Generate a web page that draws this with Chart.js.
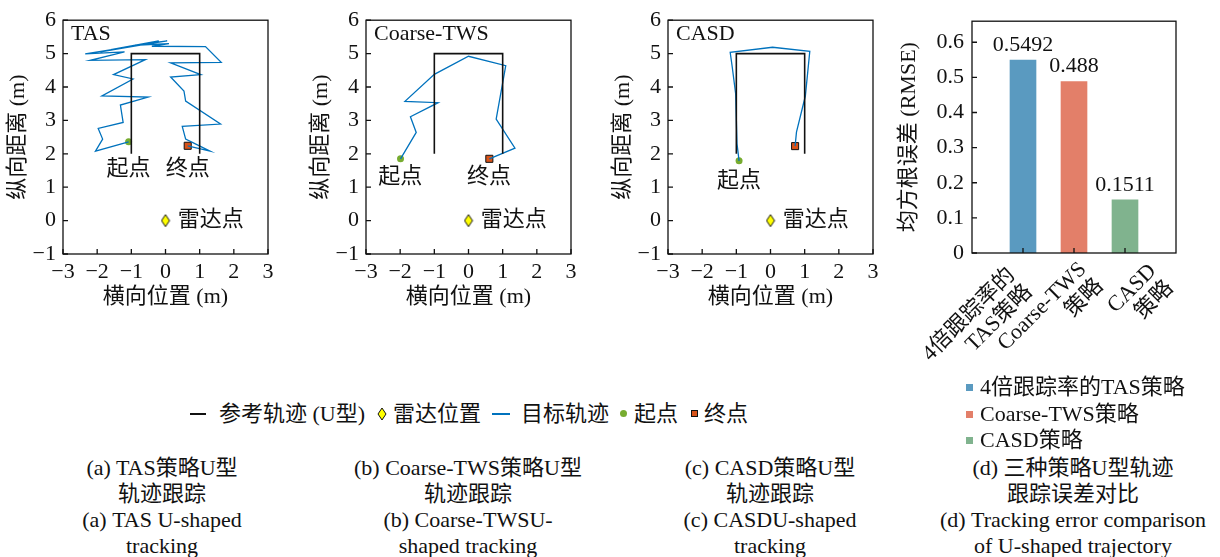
<!DOCTYPE html>
<html>
<head>
<meta charset="utf-8">
<script src="https://cdn.jsdelivr.net/npm/chart.js@4.4.1/dist/chart.umd.min.js"></script>
<style>
body{margin:0;width:1220px;height:557px;background:#fff;position:relative;overflow:hidden;
  font-family:'Liberation Serif','Noto Sans CJK SC',serif;color:#111;}
.box{position:absolute;}
.cap{position:absolute;width:340px;text-align:center;font-size:22px;line-height:26px;white-space:nowrap;}
.lg{position:absolute;font-size:22px;line-height:26px;white-space:nowrap;}
.sym{position:absolute;}
</style>
</head>
<body>
<div class="box" style="left:0;top:0;width:290px;height:320px"><canvas id="c1"></canvas></div>
<div class="box" style="left:303px;top:0;width:290px;height:320px"><canvas id="c2"></canvas></div>
<div class="box" style="left:605px;top:0;width:290px;height:320px"><canvas id="c3"></canvas></div>
<div class="box" style="left:890px;top:0;width:316px;height:380px"><canvas id="c4"></canvas></div>

<!-- shared legend for the three track panels -->
<div class="sym" style="left:190px;top:413px;width:16px;height:2px;background:#111"></div>
<div class="lg" style="left:219px;top:401px">参考轨迹 (U型)</div>
<svg class="sym" style="left:377px;top:407px" width="10" height="14"><polygon points="5,1 9,7 5,13 1,7" fill="#ffff00" stroke="#111" stroke-width="1"/></svg>
<div class="lg" style="left:393px;top:401px">雷达位置</div>
<div class="sym" style="left:492px;top:413px;width:18px;height:2px;background:#0072bd"></div>
<div class="lg" style="left:521px;top:401px">目标轨迹</div>
<div class="sym" style="left:620px;top:410px;width:7px;height:7px;border-radius:50%;background:#77ac30"></div>
<div class="lg" style="left:634px;top:401px">起点</div>
<div class="sym" style="left:691px;top:410px;width:5px;height:5px;background:#d95319;border:1px solid #111"></div>
<div class="lg" style="left:704px;top:401px">终点</div>

<!-- bar legend -->
<div id="barLegend"></div>

<!-- captions -->
<div class="cap" style="left:-8px;top:455px">(a) TAS策略U型<br>轨迹跟踪<br>(a) TAS U-shaped<br>tracking</div>
<div class="cap" style="left:298px;top:455px">(b) Coarse-TWS策略U型<br>轨迹跟踪<br>(b) Coarse-TWSU-<br>shaped tracking</div>
<div class="cap" style="left:600px;top:455px">(c) CASD策略U型<br>轨迹跟踪<br>(c) CASDU-shaped<br>tracking</div>
<div class="cap" style="left:903px;top:455px">(d) 三种策略U型轨迹<br>跟踪误差对比<br>(d) Tracking error comparison<br>of U-shaped trajectory</div>

<script>
// reference U path
var refX = [-1, -1, 1, 1];
var refY = [2, 5, 5, 2];
var radarX = [0];
var radarY = [0];

// TAS trajectory
var tasX = [-1.08, -2.05, -1.84, -1.97, -1.24, -1.32, -0.51, -1.86, -0.95, -1.52, -0.59, -2.2, -1.2, -2.35, -0.3, -1.9, -0.2, -1.6, 0.05, -0.9, 0.1, -0.4, 1.17, 1.63, 0.15, 1.03, 0.15, 0.54, 0.59, 1.61, 0.49, 0.59, 1.30, 0.65];
var tasY = [2.36, 2.08, 2.44, 2.76, 2.94, 3.46, 3.70, 3.73, 4.24, 4.37, 4.82, 4.80, 5.05, 4.99, 5.33, 5.05, 5.38, 5.12, 5.38, 5.25, 5.30, 5.22, 5.21, 4.74, 4.72, 4.37, 4.30, 3.88, 3.58, 2.89, 2.82, 2.44, 2.08, 2.24];

// Coarse-TWS trajectory
var twsX = [-1.99, -1.53, -1.70, -0.89, -1.86, -1.0, 0.0, 1.09, 0.81, 1.36, 0.61];
var twsY = [1.85, 2.64, 3.11, 3.53, 3.57, 4.38, 4.92, 4.64, 3.04, 2.17, 1.85];

// CASD trajectory
var casdX = [-0.92, -0.98, -1.02, -1.12, -1.18, 0.06, 1.15, 1.02, 0.76, 0.72];
var casdY = [1.79, 2.30, 3.80, 4.60, 5.04, 5.19, 5.07, 3.73, 2.65, 2.23];

var xTicks = [-3, -2, -1, 0, 1, 2, 3];
var yTicks = [-1, 0, 1, 2, 3, 4, 5, 6];

// RMSE bars
var barCategories = ['4倍跟踪率的TAS策略', 'Coarse-TWS策略', 'CASD策略'];
var barTickLabels = [['4倍跟踪率的', 'TAS策略'], ['Coarse-TWS', '策略'], ['CASD', '策略']];
var barValues = [0.5492, 0.488, 0.1511];
var barValueText = ['0.5492', '0.488', '0.1511'];
var barColors = ['#5a9ac0', '#e37f69', '#80b38e'];
var rmseTicks = [0, 0.1, 0.2, 0.3, 0.4, 0.5, 0.6];

var FONT = "'Liberation Serif', 'Noto Sans CJK SC', serif";
Chart.defaults.font.family = FONT;
Chart.defaults.font.size = 22;
Chart.defaults.color = '#111';

function pts(xs, ys) {
  return xs.map(function (x, i) { return {x: x, y: ys[i]}; });
}
function minus(v) {
  return (v < 0 ? '\u2212' : '') + Math.abs(v);
}

// tall yellow diamond for the radar point
var diamond = document.createElement('canvas');
diamond.width = 10; diamond.height = 14;
(function () {
  var g = diamond.getContext('2d');
  g.beginPath();
  g.moveTo(5, 1); g.lineTo(9, 7); g.lineTo(5, 13); g.lineTo(1, 7); g.closePath();
  g.fillStyle = '#ffff00'; g.fill();
  g.strokeStyle = '#111'; g.lineWidth = 1; g.stroke();
})();

// box frame, inward ticks, text notes, bar values and slanted category labels
var framePlugin = {
  id: 'frame',
  afterDatasetsDraw: function (chart, args, opts) {
    var ctx = chart.ctx, a = chart.chartArea;
    var sx = chart.scales.x, sy = chart.scales.y;
    ctx.save();
    ctx.strokeStyle = '#111';
    ctx.lineWidth = 1.3;
    ctx.strokeRect(a.left, a.top, a.right - a.left, a.bottom - a.top);
    ctx.beginPath();
    sx.ticks.forEach(function (t, i) {
      if (opts.skipBlank && !chart.data.labels[i]) return;
      var px = sx.getPixelForTick(i);
      ctx.moveTo(px, a.bottom); ctx.lineTo(px, a.bottom - 5);
    });
    sy.ticks.forEach(function (t, i) {
      var py = sy.getPixelForTick(i);
      ctx.moveTo(a.left, py); ctx.lineTo(a.left + 5, py);
    });
    ctx.stroke();

    ctx.fillStyle = '#111';
    ctx.font = '22px ' + FONT;
    ctx.textBaseline = 'middle';
    if (opts.tag) {
      ctx.textAlign = 'left';
      ctx.fillText(opts.tag, a.left + 8, a.top + 14);
    }
    (opts.notes || []).forEach(function (n) {
      ctx.textAlign = n.align || 'center';
      ctx.fillText(n.text, sx.getPixelForValue(n.x), sy.getPixelForValue(n.y));
    });
    if (opts.barText) {
      var meta = chart.getDatasetMeta(0);
      ctx.textAlign = 'center';
      meta.data.forEach(function (bar, i) {
        var txt = opts.barText[i];
        if (!txt) return;
        ctx.fillText(txt, bar.x, bar.y - 15);
      });
    }
    (opts.slanted || []).forEach(function (r) {
      ctx.save();
      ctx.translate(sx.getPixelForValue(r.index) + r.dx, a.bottom + r.dy);
      ctx.rotate(-Math.PI / 4);
      ctx.textAlign = 'right';
      r.lines.forEach(function (t, k) { ctx.fillText(t, 0, k * 24); });
      ctx.restore();
    });
    ctx.restore();
  }
};

function trackChart(id, xs, ys, tag, notes) {
  var n = xs.length;
  return new Chart(document.getElementById(id), {
    type: 'scatter',
    data: {
      datasets: [
        {data: pts(refX, refY), showLine: true, borderColor: '#111', borderWidth: 1.6, pointRadius: 0},
        {data: pts(xs, ys), showLine: true, borderColor: '#0072bd', borderWidth: 1.3, pointRadius: 0, tension: 0},
        {data: pts([xs[0]], [ys[0]]), pointStyle: 'circle', pointRadius: 3.5, backgroundColor: '#77ac30', borderWidth: 0},
        {data: pts([xs[n - 1]], [ys[n - 1]]), pointStyle: 'rect', pointRadius: 5, backgroundColor: '#d95319', borderColor: '#111', borderWidth: 1},
        {data: pts(radarX, radarY), pointStyle: diamond, pointRadius: 7}
      ]
    },
    options: {
      responsive: true,
      maintainAspectRatio: false,
      animation: false,
      events: [],
      layout: {padding: {top: 16, right: 22, left: 0, bottom: 0}},
      plugins: {
        legend: {display: false},
        tooltip: {enabled: false},
        frame: {tag: tag, notes: notes}
      },
      scales: {
        x: {
          type: 'linear', min: xTicks[0], max: xTicks[xTicks.length - 1],
          afterBuildTicks: function (s) { s.ticks = xTicks.map(function (v) { return {value: v}; }); },
          afterFit: function (s) { s.height = 66; },
          grid: {display: false, drawTicks: false},
          border: {display: false},
          ticks: {padding: 5, callback: minus, maxRotation: 0},
          title: {display: true, text: '横向位置 (m)', font: {size: 22}, padding: {top: 4, bottom: 10}}
        },
        y: {
          type: 'linear', min: yTicks[0], max: yTicks[yTicks.length - 1],
          afterBuildTicks: function (s) { s.ticks = yTicks.map(function (v) { return {value: v}; }); },
          afterFit: function (s) { s.width = 63; },
          grid: {display: false, drawTicks: false},
          border: {display: false},
          ticks: {padding: 7, callback: minus},
          title: {display: true, text: '纵向距离 (m)', font: {size: 22}, padding: {top: 5, bottom: 4}}
        }
      }
    },
    plugins: [framePlugin]
  });
}

trackChart('c1', tasX, tasY, 'TAS', [
  {x: -1.08, y: 1.55, text: '起点'},
  {x: 0.65, y: 1.55, text: '终点'},
  {x: 0.36, y: 0, text: '雷达点', align: 'left'}
]);
trackChart('c2', twsX, twsY, 'Coarse-TWS', [
  {x: -2.0, y: 1.3, text: '起点'},
  {x: 0.6, y: 1.3, text: '终点'},
  {x: 0.36, y: 0, text: '雷达点', align: 'left'}
]);
trackChart('c3', casdX, casdY, 'CASD', [
  {x: -0.92, y: 1.18, text: '起点'},
  {x: 0.36, y: 0, text: '雷达点', align: 'left'}
]);

// bar chart: blank slots at both ends put the bars at 1/4, 2/4, 3/4 of the width
var barLabels = [''].concat(barTickLabels, ['']);
var labelShift = [[-11, 19], [9, 13], [28, 15]];
var slanted = barTickLabels.map(function (lines, i) {
  return {index: i + 1, lines: lines, dx: labelShift[i][0], dy: labelShift[i][1]};
});
new Chart(document.getElementById('c4'), {
  type: 'bar',
  data: {
    labels: barLabels,
    datasets: [{
      data: [null].concat(barValues, [null]),
      backgroundColor: ['#fff'].concat(barColors, ['#fff']),
      borderWidth: 0,
      barThickness: 26
    }]
  },
  options: {
    responsive: true,
    maintainAspectRatio: false,
    animation: false,
    events: [],
    layout: {padding: {top: 16, right: 30, left: 0, bottom: 0}},
    plugins: {
      legend: {display: false},
      tooltip: {enabled: false},
      frame: {skipBlank: true, barText: [null].concat(barValueText, [null]), slanted: slanted}
    },
    scales: {
      x: {
        offset: false,
        afterFit: function (s) { s.height = 127; },
        grid: {display: false, drawTicks: false},
        border: {display: false},
        ticks: {display: false, autoSkip: false}
      },
      y: {
        min: 0, max: 0.66,
        afterBuildTicks: function (s) { s.ticks = rmseTicks.map(function (v) { return {value: v}; }); },
        afterFit: function (s) { s.width = 82; },
        grid: {display: false, drawTicks: false},
        border: {display: false},
        ticks: {padding: 8, callback: function (v) { return v === 0 ? '0' : v.toFixed(1); }},
        title: {display: true, text: '均方根误差 (RMSE)', font: {size: 22}, padding: {top: 6, bottom: 4}}
      }
    }
  },
  plugins: [framePlugin]
});

// bar legend rows
var lg = document.getElementById('barLegend');
barCategories.forEach(function (name, i) {
  var top = 374 + i * 26.5;
  lg.insertAdjacentHTML('beforeend',
    '<div class="sym" style="left:966px;top:' + (top + 10) + 'px;width:7px;height:7px;background:' + barColors[i] + '"></div>' +
    '<div class="lg" style="left:980px;top:' + top + 'px">' + name + '</div>');
});
</script>
</body>
</html>
